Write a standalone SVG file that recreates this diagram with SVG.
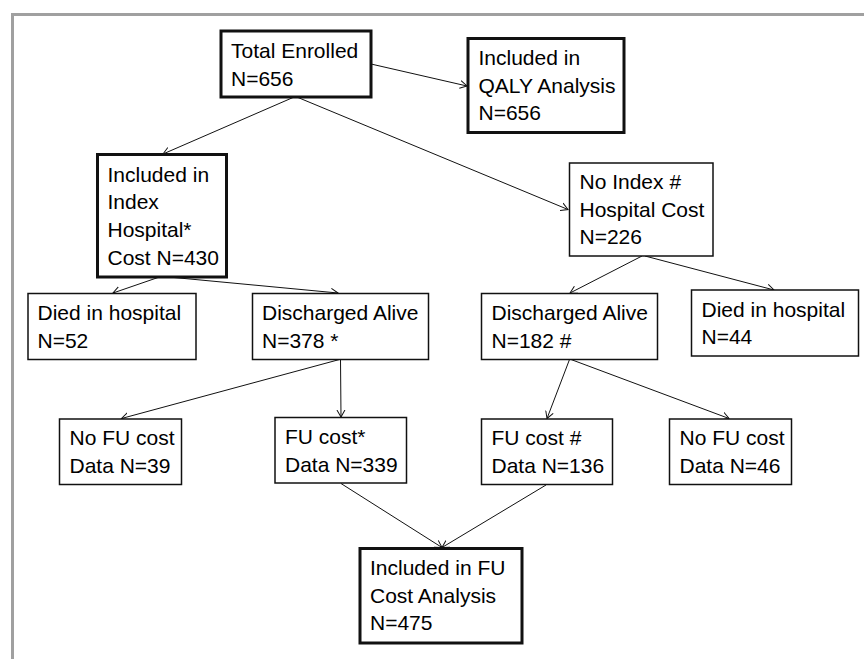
<svg xmlns="http://www.w3.org/2000/svg" width="864" height="659" viewBox="0 0 864 659">
<defs>
<style>
.box{fill:#fff;stroke:#111;stroke-width:1.5}
.thick{stroke-width:3}
text{font-family:"Liberation Sans",Arial,sans-serif;font-size:21px;fill:#000}
.conn line{stroke:#111;stroke-width:1;marker-end:url(#arr)}
</style>
<marker id="arr" markerUnits="userSpaceOnUse" markerWidth="10" markerHeight="10" refX="7" refY="4" orient="auto" viewBox="0 0 10 8">
<path d="M0,0 L7,4 L0,8" fill="none" stroke="#111" stroke-width="1"/>
</marker>
</defs>
<rect width="864" height="659" fill="#fff"/>
<path d="M12.5,659 V14.5 H864" fill="none" stroke="#a0a0a0" stroke-width="3"/>
<g id="connectors" class="conn">
<line x1="371" y1="64" x2="467" y2="86"/>
<line x1="293" y1="97.5" x2="163" y2="154"/>
<line x1="298" y1="97.5" x2="568" y2="209.5"/>
<line x1="158" y1="277.5" x2="113" y2="293"/>
<line x1="174" y1="277.5" x2="338" y2="293"/>
<line x1="642" y1="256" x2="570" y2="293"/>
<line x1="645" y1="256" x2="774" y2="290"/>
<line x1="339.5" y1="359.5" x2="121.5" y2="418.5"/>
<line x1="340.5" y1="359.5" x2="341" y2="417"/>
<line x1="569.5" y1="359.5" x2="547" y2="418.5"/>
<line x1="571" y1="359.5" x2="729" y2="418.5"/>
<line x1="341" y1="483.5" x2="442" y2="547.5"/>
<line x1="546" y1="485" x2="442" y2="547.5"/>
</g>
<g id="total">
<rect class="box thick" x="221" y="31" width="150" height="66"/>
<text x="231" y="58">Total Enrolled</text>
<text x="231" y="85.5">N=656</text>
</g>
<g id="qaly">
<rect class="box thick" x="468" y="38.5" width="156" height="94"/>
<text x="478.5" y="65">Included in</text>
<text x="478.5" y="92.5">QALY Analysis</text>
<text x="478.5" y="120">N=656</text>
</g>
<g id="index">
<rect class="box thick" x="97.5" y="154.5" width="129" height="122.5"/>
<text x="107.5" y="181.5">Included in</text>
<text x="107.5" y="209">Index</text>
<text x="107.5" y="236.5">Hospital*</text>
<text x="107.5" y="264.5">Cost N=430</text>
</g>
<g id="noindex">
<rect class="box" x="569.5" y="163" width="143.5" height="93"/>
<text x="579.5" y="189">No Index #</text>
<text x="579.5" y="216.5">Hospital Cost</text>
<text x="579.5" y="244">N=226</text>
</g>
<g id="died52">
<rect class="box" x="28" y="293.5" width="168" height="66"/>
<text x="37.5" y="320">Died in hospital</text>
<text x="37.5" y="348">N=52</text>
</g>
<g id="dis378">
<rect class="box" x="252.5" y="293.5" width="176" height="66"/>
<text x="262" y="320">Discharged Alive</text>
<text x="262" y="348">N=378 *</text>
</g>
<g id="dis182">
<rect class="box" x="481.5" y="293.5" width="176" height="66"/>
<text x="491.5" y="320">Discharged Alive</text>
<text x="491.5" y="348">N=182 #</text>
</g>
<g id="died44">
<rect class="box" x="691.5" y="290" width="167" height="66"/>
<text x="701.5" y="316.5">Died in hospital</text>
<text x="701.5" y="344">N=44</text>
</g>
<g id="nofu39">
<rect class="box" x="59.5" y="419" width="122" height="65.5"/>
<text x="69.5" y="445">No FU cost</text>
<text x="69.5" y="472.5">Data N=39</text>
</g>
<g id="fu339">
<rect class="box" x="275" y="417.5" width="131.5" height="65.5"/>
<text x="285" y="444">FU cost*</text>
<text x="285" y="471.5">Data N=339</text>
</g>
<g id="fu136">
<rect class="box" x="481.5" y="419" width="131" height="65.5"/>
<text x="491.5" y="445">FU cost #</text>
<text x="491.5" y="472.5">Data N=136</text>
</g>
<g id="nofu46">
<rect class="box" x="669.5" y="419" width="122" height="65.5"/>
<text x="679.5" y="445">No FU cost</text>
<text x="679.5" y="472.5">Data N=46</text>
</g>
<g id="fuanalysis">
<rect class="box thick" x="360" y="548.5" width="162" height="94.5"/>
<text x="370" y="575">Included in FU</text>
<text x="370" y="602.5">Cost Analysis</text>
<text x="370" y="630">N=475</text>
</g>
</svg>
